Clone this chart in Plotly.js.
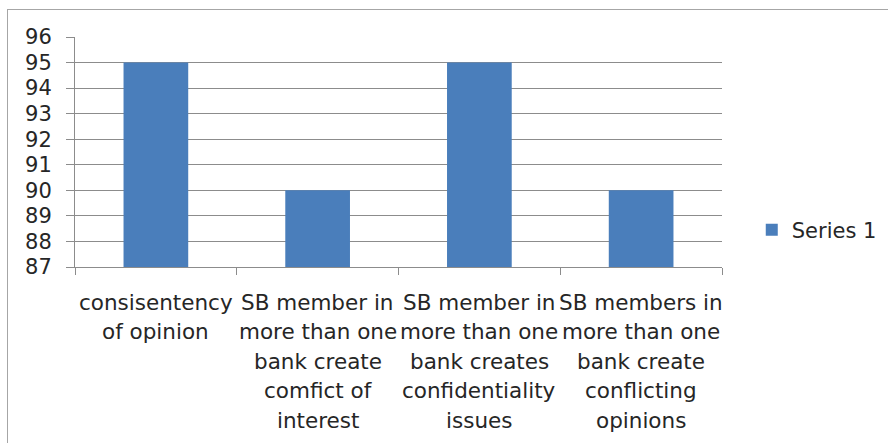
<!DOCTYPE html>
<html>
<head>
<meta charset="utf-8">
<script src="https://cdn.plot.ly/plotly-3.0.1.min.js"></script>
<style>
  html, body { margin: 0; padding: 0; background: #fff; overflow: hidden; }
  #wrap { position: relative; width: 888px; height: 443px; }
  #chart { position: absolute; left: 0; top: 0; width: 888px; height: 443px; }
  #frame { position: absolute; left: 7px; top: 9px; width: 900px; height: 500px;
           border-left: 1px solid #a6a6a6; border-top: 1px solid #a6a6a6; pointer-events: none; }
</style>
</head>
<body>
<div id="wrap">
  <div id="chart"></div>
  <div id="frame"></div>
</div>
<script>
// Data
const categories = [
  "consisentency<br>of opinion",
  "SB member in<br>more than one<br>bank create<br>comfict of<br>interest",
  "SB member in<br>more than one<br>bank creates<br>confidentiality<br>issues",
  "SB members in<br>more than one<br>bank create<br>conflicting<br>opinions"
];
const series1 = [95, 90, 95, 90];
const seriesName = "Series 1";
const yTicks = [87, 88, 89, 90, 91, 92, 93, 94, 95, 96];

const FONT = "DejaVu Sans, sans-serif";
const TEXT = "#262626";
const GRID = "#8c8c8c";

// x-axis labels, drawn line by line as annotations
const annotations = [];
categories.forEach(function (cat) {
  cat.split("<br>").forEach(function (line, j) {
    annotations.push({
      x: cat, xref: "x", y: 0, yref: "paper",
      text: line, showarrow: false,
      xanchor: "center", yanchor: "middle",
      yshift: -35 - 29.5 * j,
      font: { family: FONT, size: 21.5, color: TEXT }
    });
  });
});

const trace = {
  type: "bar",
  x: categories,
  y: series1,
  name: seriesName,
  marker: { color: "#4a7ebb", line: { width: 0 } },
  showlegend: true
};

const layout = {
  width: 888, height: 443,
  margin: { l: 75, r: 166, t: 37, b: 176, pad: 0, autoexpand: false },
  paper_bgcolor: "#fff", plot_bgcolor: "#fff",
  bargap: 0.6,
  font: { family: FONT, size: 21, color: TEXT },
  xaxis: {
    type: "category",
    showticklabels: false,
    tickson: "boundaries",
    ticks: "outside", ticklen: 7, tickcolor: GRID, tickwidth: 1,
    showline: true, linecolor: GRID, linewidth: 1,
    showgrid: false, zeroline: false,
    range: [-0.5, 3.5]
  },
  yaxis: {
    range: [87, 96],
    tickvals: yTicks,
    ticktext: yTicks.map(String),
    ticks: "outside", ticklen: 8, tickcolor: GRID, tickwidth: 1,
    ticklabelstandoff: 10,
    showline: true, linecolor: GRID, linewidth: 1,
    showgrid: true, gridcolor: GRID, gridwidth: 1,
    zeroline: false,
    tickfont: { family: FONT, size: 21, color: TEXT }
  },
  showlegend: true,
  legend: {
    x: 1.046, xanchor: "left",
    y: 0.16, yanchor: "middle",
    itemwidth: 30,
    font: { family: FONT, size: 21, color: TEXT },
    bgcolor: "rgba(0,0,0,0)"
  },
  annotations: annotations
};

Plotly.newPlot("chart", [trace], layout, { displayModeBar: false, staticPlot: true });
</script>
</body>
</html>
